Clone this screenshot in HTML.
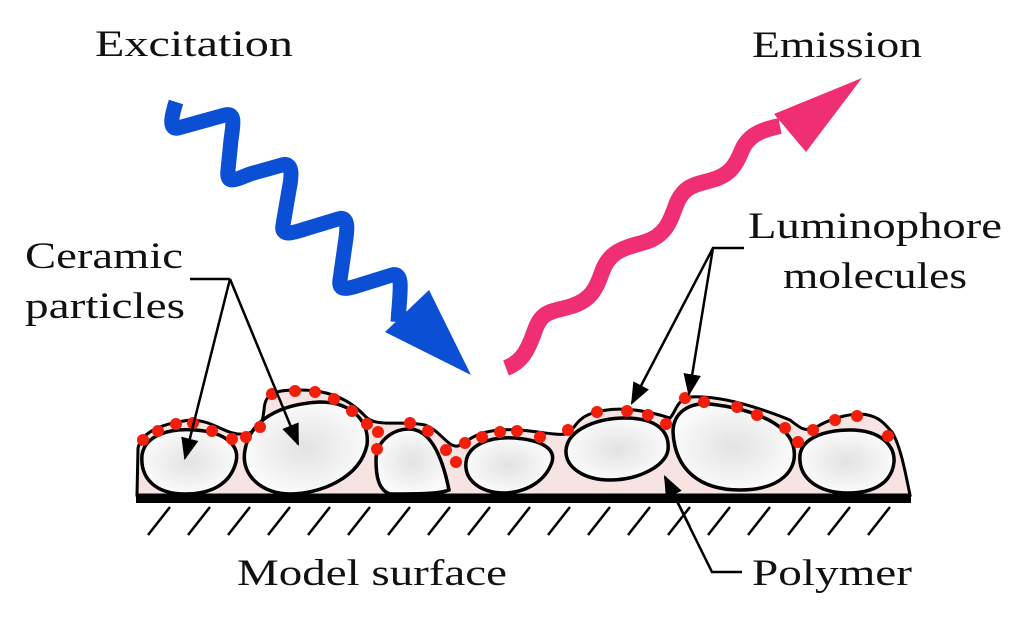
<!DOCTYPE html>
<html><head><meta charset="utf-8"><style>
html,body{margin:0;padding:0;background:#fff;}
svg{display:block;}
text{font-family:"Liberation Serif",serif;font-size:37px;fill:#111;}
</style></head><body>
<svg width="1024" height="617" viewBox="0 0 1024 617">
<defs>
<radialGradient id="pg" cx="50%" cy="50%" r="50%">
<stop offset="0" stop-color="#e2e2e2"/><stop offset="1" stop-color="#fafafa"/>
</radialGradient>
<marker id="ah2" viewBox="0 0 10 10" refX="9" refY="5" markerWidth="22" markerHeight="22" orient="auto" markerUnits="userSpaceOnUse"><path d="M0,1 L10,5 L0,9 z" fill="#000"/></marker>
</defs>

<g><text x="95" y="56" textLength="198" lengthAdjust="spacingAndGlyphs">Excitation</text></g>
<g><text x="752" y="57" textLength="170" lengthAdjust="spacingAndGlyphs">Emission</text></g>
<g><text x="25" y="268" textLength="158" lengthAdjust="spacingAndGlyphs">Ceramic</text><text x="25" y="318" textLength="160" lengthAdjust="spacingAndGlyphs">particles</text></g>
<g><text x="748" y="238" textLength="254" lengthAdjust="spacingAndGlyphs">Luminophore</text><text x="783" y="288" textLength="184" lengthAdjust="spacingAndGlyphs">molecules</text></g>
<g><text x="237" y="585" textLength="270" lengthAdjust="spacingAndGlyphs">Model surface</text></g>
<g><text x="752" y="585" textLength="160" lengthAdjust="spacingAndGlyphs">Polymer</text></g>

<g>
<path d="M176,102 C172,115 168,130 178,128 L225,115 C236,112 233,125 231,140 L228,170 C226,185 235,180 250,174 L282,165 C293,162 292,175 289,190 L283,225 C281,236 290,234 305,229 L338,219 C350,215 347,232 345,245 L340,280 C338,292 348,289 363,284 L392,275 C404,272 400,290 398,322" fill="none" stroke="#0a4fd4" stroke-width="15" stroke-linejoin="round"/>
<path d="M429,290 L471,375 L385,332 z" fill="#0a4fd4"/>
</g>

<g>
<path d="M506,368 C522,362 528,350 535,330 C542,310 552,312 572,306 C590,300 596,290 602,272 C610,250 625,248 645,242 C665,236 670,222 676,205 C684,185 695,185 712,180 C730,175 736,165 742,150 C748,136 760,130 780,126" fill="none" stroke="#f02e73" stroke-width="16" stroke-linejoin="round"/>
<path d="M774,114 L862,78 L806,152 z" fill="#f02e73"/>
</g>

<g>
<rect x="136" y="494" width="775" height="9" fill="#000"/>
<g stroke="#000" stroke-width="2.5">
<line x1="148" y1="535" x2="170" y2="507"/><line x1="188" y1="535" x2="210" y2="507"/><line x1="228" y1="535" x2="250" y2="507"/><line x1="268" y1="535" x2="290" y2="507"/><line x1="308" y1="535" x2="330" y2="507"/><line x1="348" y1="535" x2="370" y2="507"/><line x1="388" y1="535" x2="410" y2="507"/><line x1="428" y1="535" x2="450" y2="507"/><line x1="468" y1="535" x2="490" y2="507"/><line x1="508" y1="535" x2="530" y2="507"/><line x1="548" y1="535" x2="570" y2="507"/><line x1="588" y1="535" x2="610" y2="507"/><line x1="628" y1="535" x2="650" y2="507"/><line x1="668" y1="535" x2="690" y2="507"/><line x1="708" y1="535" x2="730" y2="507"/><line x1="748" y1="535" x2="770" y2="507"/><line x1="788" y1="535" x2="810" y2="507"/><line x1="828" y1="535" x2="850" y2="507"/><line x1="868" y1="535" x2="890" y2="507"/>
</g>
</g>

<path d="M137,495 L138,448 C142,432 160,424 190,420 C215,420 225,436 245,434 C262,430 262,424 264,410 C265,392 275,390 300,390 C330,390 350,400 365,416 C375,428 400,420 425,425 C440,430 448,448 458,446 C470,440 475,432 500,430 C530,428 550,436 566,434 C575,430 575,420 590,414 C615,405 645,410 670,418 C676,412 676,400 690,397 C720,395 760,408 790,420 C800,428 805,432 815,428 C830,418 850,414 860,414 C880,415 885,425 892,432 C900,445 905,470 910,495 z" fill="#f7e4e2" stroke="#000" stroke-width="3"/>

<g stroke="#000" stroke-width="3.5" fill="url(#pg)">
<path d="M142,455 C145,435 170,428 195,430 C225,432 240,445 236,462 C230,485 210,494 185,494 C155,494 140,478 142,455 z"/>
<path d="M245,450 C250,420 280,404 320,402 C350,402 370,420 367,445 C360,478 320,494 290,494 C262,494 240,475 245,450 z"/>
<path d="M376,460 C376,440 395,428 410,429 C430,430 442,455 449,490 C440,494 415,494 390,494 C378,490 376,475 376,460 z"/>
<path d="M466,462 C468,445 490,436 515,438 C540,440 556,448 552,462 C546,480 528,492 505,493 C480,493 464,480 466,462 z"/>
<path d="M566,450 C568,428 600,418 625,418 C655,418 670,430 668,450 C666,465 640,480 610,480 C585,480 565,468 566,450 z"/>
<path d="M673,432 C673,412 690,402 710,404 C745,408 785,420 793,445 C800,470 780,490 740,490 C700,490 675,470 673,432 z"/>
<path d="M800,455 C802,438 825,430 850,430 C880,430 895,445 894,462 C892,482 875,493 848,493 C818,493 798,478 800,455 z"/>
</g>

<g fill="#f01e0a">
<circle cx="143" cy="440" r="6"/><circle cx="158" cy="431" r="6"/><circle cx="176" cy="424" r="6"/><circle cx="193" cy="423" r="6"/><circle cx="212" cy="431" r="6"/><circle cx="232" cy="439" r="6"/><circle cx="246" cy="437" r="6"/><circle cx="260" cy="427" r="6"/><circle cx="272" cy="394" r="6"/><circle cx="295" cy="391" r="6"/><circle cx="315" cy="392" r="6"/><circle cx="334" cy="399" r="6"/><circle cx="352" cy="411" r="6"/><circle cx="367" cy="424" r="6"/><circle cx="378" cy="432" r="6"/><circle cx="377" cy="449" r="6"/><circle cx="410" cy="423" r="6"/><circle cx="428" cy="431" r="6"/><circle cx="446" cy="450" r="6"/><circle cx="456" cy="462" r="6"/><circle cx="465" cy="443" r="6"/><circle cx="482" cy="437" r="6"/><circle cx="500" cy="432" r="6"/><circle cx="517" cy="431" r="6"/><circle cx="540" cy="437" r="6"/><circle cx="568" cy="430" r="6"/><circle cx="597" cy="412" r="6"/><circle cx="627" cy="411" r="6"/><circle cx="648" cy="415" r="6"/><circle cx="666" cy="424" r="6"/><circle cx="685" cy="398" r="6"/><circle cx="704" cy="402" r="6"/><circle cx="737" cy="407" r="6"/><circle cx="757" cy="415" r="6"/><circle cx="785" cy="428" r="6"/><circle cx="798" cy="442" r="6"/><circle cx="813" cy="430" r="6"/><circle cx="835" cy="420" r="6"/><circle cx="857" cy="416" r="6"/><circle cx="888" cy="436" r="6"/>
</g>

<g stroke="#000" stroke-width="2.5" fill="none">
<polyline points="190,279 230,279"/>
<line x1="230" y1="279" x2="185" y2="458" marker-end="url(#ah2)"/>
<line x1="230" y1="279" x2="298" y2="444" marker-end="url(#ah2)"/>
<polyline points="712,248 744,248"/>
<line x1="713" y1="248" x2="632" y2="403" marker-end="url(#ah2)"/>
<line x1="713" y1="248" x2="689" y2="394" marker-end="url(#ah2)"/>
<polyline points="742,572 712,572 665,477" />
<line x1="690" y1="527" x2="665" y2="477" marker-end="url(#ah2)"/>
</g>
</svg>
</body></html>
